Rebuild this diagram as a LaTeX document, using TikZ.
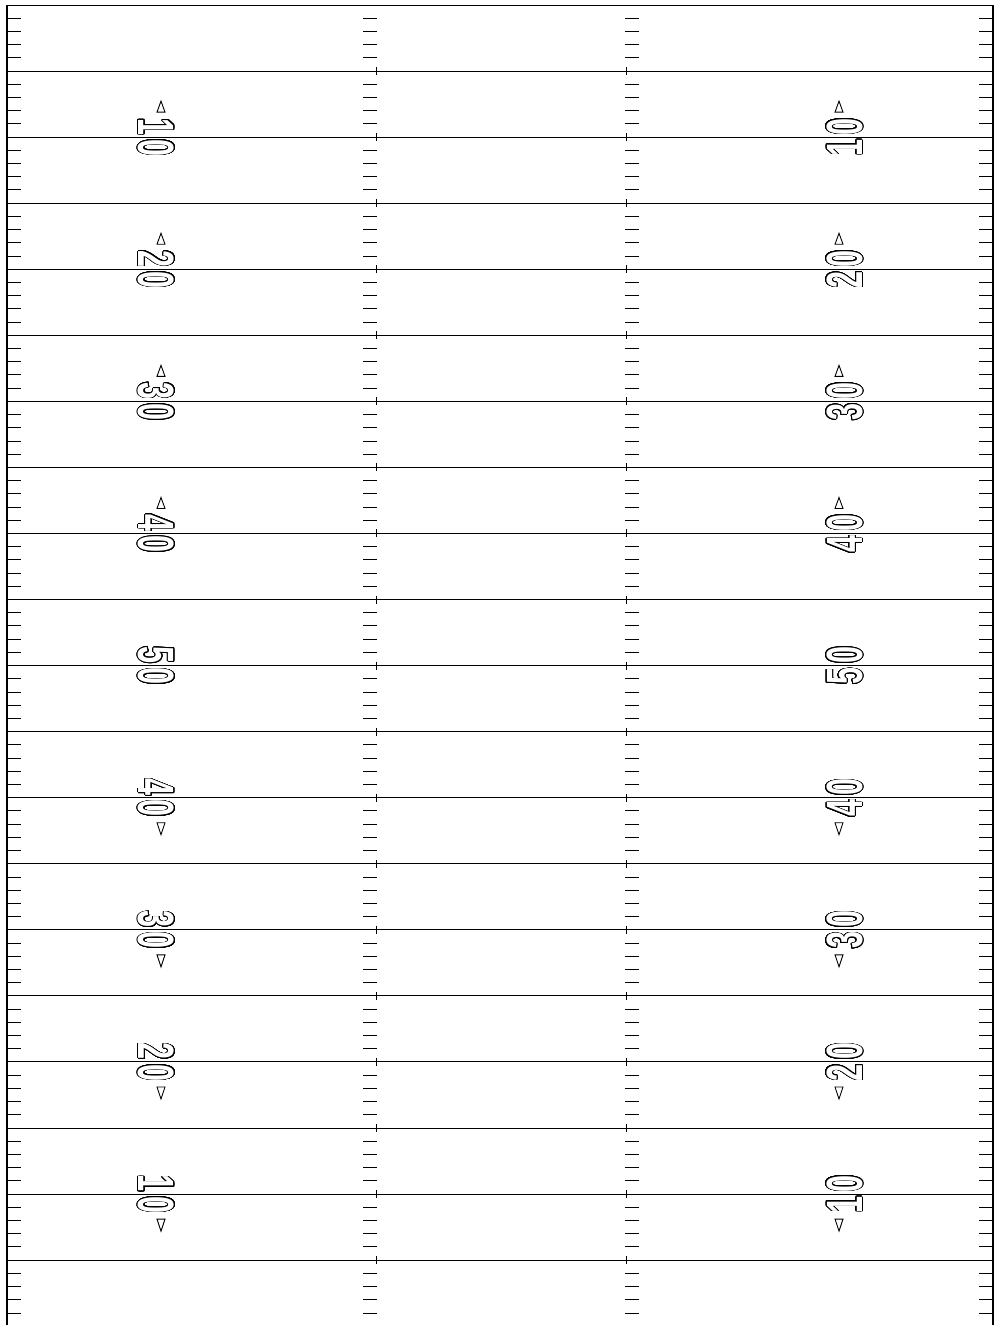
\documentclass[tikz,border=0pt]{standalone}
\usepackage{fontspec}
\setmainfont{Liberation Sans}
\usepackage{contour}
\contourlength{1pt}
\contournumber{32}

\tikzset{
  yardline/.style={line width=1pt},
  sideline/.style={line width=1.6pt},
  tick/.style={line width=1pt},
  numeral/.style={inner sep=0pt, font=\fontsize{51}{51}\selectfont\bfseries},
  arrowmark/.style={line width=0.9pt, fill=white}
}

\begin{document}
\begin{tikzpicture}[x=1pt, y=-1pt]
  \useasboundingbox (0,0) rectangle (1000,1325);
  \fill[white] (0,0) rectangle (1000,1325);
  % yard lines, every five yards
  \foreach \k in {1,...,19}
    \draw[yardline] (7,{5+66.06*\k}) -- (993,{5+66.06*\k})
      (376,{1+66.06*\k}) -- (376,{9+66.06*\k})
      (626,{1+66.06*\k}) -- (626,{9+66.06*\k});
  % one yard marks
  \foreach \j in {1,...,99} {
    \pgfmathtruncatemacro{\r}{mod(\j,5)}
    \ifnum\r>0
      \pgfmathsetmacro{\yy}{5+13.212*\j}
      \draw[tick] (7,\yy) -- (21,\yy) (363,\yy) -- (377,\yy)
        (625,\yy) -- (639,\yy) (979,\yy) -- (993,\yy);
    \fi
  }
  % sidelines and goal line
  \draw[sideline] (7,1330) -- (7,5.5) -- (993,5.5) -- (993,1330);
  % numbers
  \foreach \i/\a/\b in {1/1/0, 2/2/0, 3/3/0, 4/4/0, 5/5/0, 6/4/0, 7/3/0, 8/2/0, 9/1/0} {
    \pgfmathsetmacro{\yy}{5+132.12*\i}
    \node[numeral, rotate=-90, xscale=0.6] (numL\i) at (156,\yy)
      {\contour{black}{\textcolor{white}{\a\kern7pt\b}}};
    \node[numeral, rotate=90, xscale=0.6] (numR\i) at (845,\yy)
      {\contour{black}{\textcolor{white}{\a\kern7pt\b}}};
  }
  % direction arrows
  \foreach \i in {1,...,4} {
    \pgfmathsetmacro{\yy}{5+132.12*\i}
    \draw[arrowmark] (157,{\yy-25}) -- (161,{\yy-36}) -- (165,{\yy-25}) -- cycle;
    \draw[arrowmark] (835,{\yy-25}) -- (839,{\yy-36}) -- (843,{\yy-25}) -- cycle;
  }
  \foreach \i in {6,...,9} {
    \pgfmathsetmacro{\yy}{5+132.12*\i}
    \draw[arrowmark] (157,{\yy+25}) -- (161,{\yy+37}) -- (165,{\yy+25}) -- cycle;
    \draw[arrowmark] (835,{\yy+25}) -- (839,{\yy+37}) -- (843,{\yy+25}) -- cycle;
  }
\end{tikzpicture}
\end{document}
